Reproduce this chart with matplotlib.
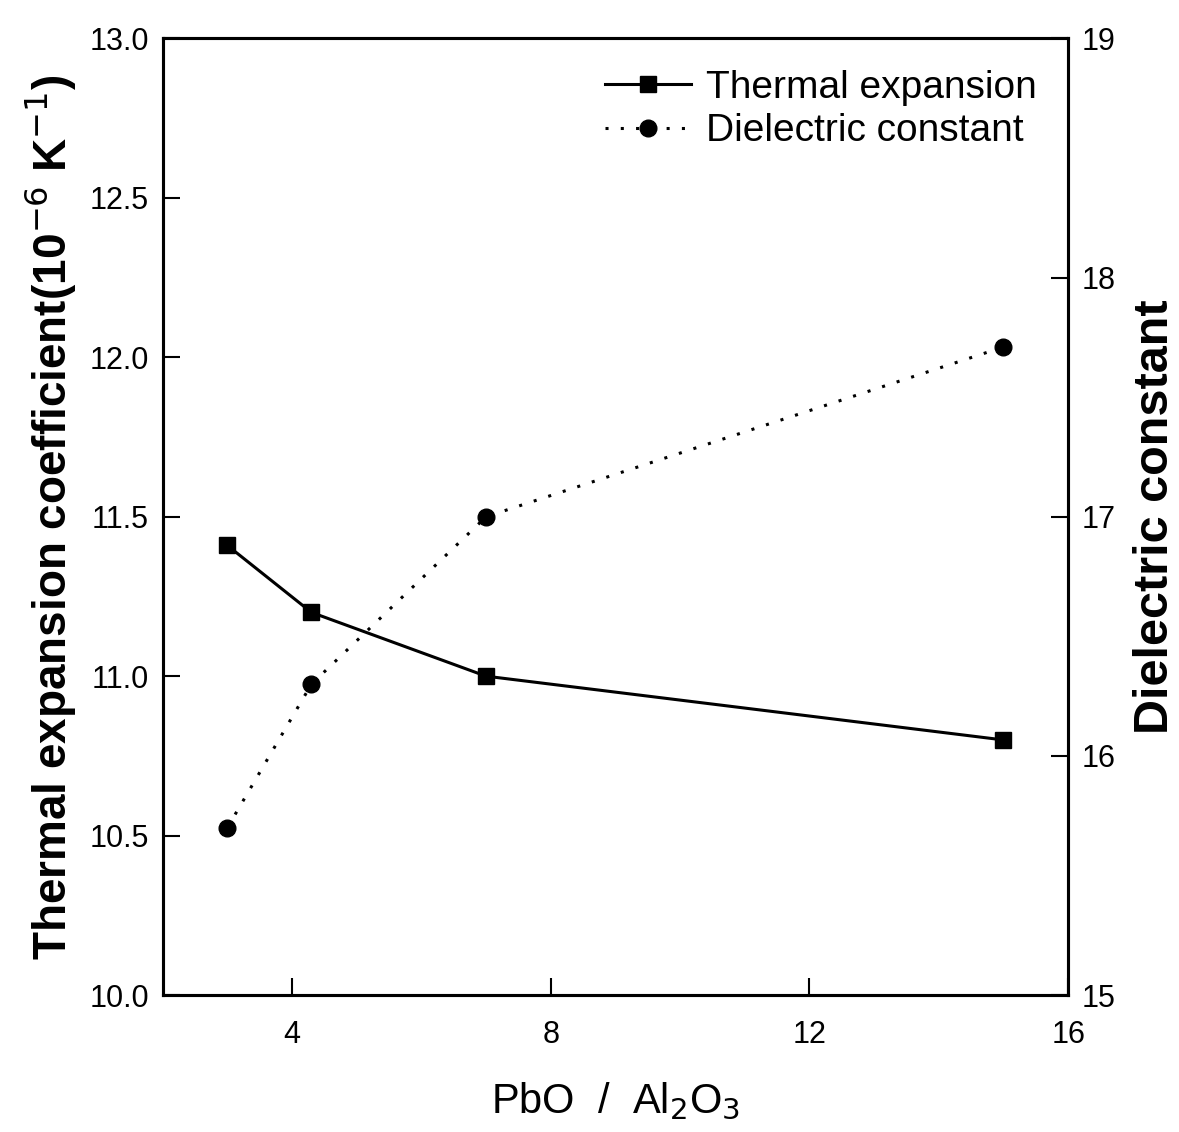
import matplotlib.pyplot as plt

# PbO / Al2O3 ratio of the glass compositions
ratio = [3, 4.3, 7, 15]
thermal_exp = [11.41, 11.2, 11.0, 10.8]   # 10^-6 / K
dielectric = [15.7, 16.3, 17.0, 17.71]

x_ticks = [4, 8, 12, 16]
left_ticks = [10.0, 10.5, 11.0, 11.5, 12.0, 12.5, 13.0]
right_ticks = [15, 16, 17, 18, 19]

plt.rcParams['font.family'] = ['Liberation Sans', 'DejaVu Sans']

fig = plt.figure(figsize=(11.79, 11.32), dpi=100)
ax = fig.add_axes([0.138, 0.121, 0.768, 0.845])
ax2 = ax.twinx()

l1, = ax.plot(ratio, thermal_exp, '-', color='black', lw=2.2, marker='s',
              ms=12, label='Thermal expansion')
l2, = ax2.plot(ratio, dielectric, color='black', lw=2.2, ls=(0, (1, 4)),
               marker='o', ms=12, label='Dielectric constant')

ax.set_xlim(2, 16)
ax.set_ylim(10.0, 13.0)
ax2.set_ylim(15, 19)
ax.set_xticks(x_ticks)
ax.set_yticks(left_ticks)
ax.set_yticklabels([f'{v:.1f}' for v in left_ticks])
ax2.set_yticks(right_ticks)

ax.tick_params(axis='both', direction='in', length=12, width=1.5,
               labelsize=22, pad=10)
ax.tick_params(axis='x', pad=18)
ax2.tick_params(axis='y', direction='in', length=12, width=1.5,
                labelsize=22, pad=10)
for a in (ax, ax2):
    for s in a.spines.values():
        s.set_linewidth(2.2)

ax.set_xlabel('PbO  /  Al$_2$O$_3$', fontsize=30, labelpad=22)
ax.set_ylabel('Thermal expansion coefficient(10$^{-6}$ K$^{-1}$)',
              fontsize=33, fontweight='bold', labelpad=8)
ax2.set_ylabel('Dielectric constant', fontsize=35, fontweight='bold',
               labelpad=12)

ax.legend(handles=[l1, l2], loc='upper right', frameon=False,
          fontsize=28, handlelength=2.2, handletextpad=0.4,
          borderaxespad=0.4, labelspacing=0.2)

fig.savefig('out.png', dpi=100)
